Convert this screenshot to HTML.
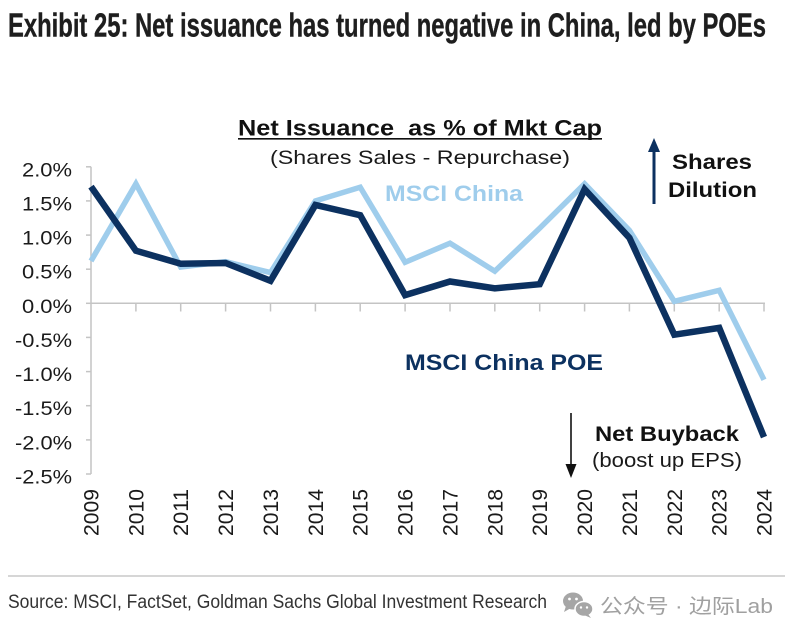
<!DOCTYPE html>
<html>
<head>
<meta charset="utf-8">
<style>
  html,body{margin:0;padding:0;background:#fff;}
  svg{display:block;}
  text{font-family:"Liberation Sans", Arial, sans-serif;}
  .narrow{font-family:"Liberation Sans Narrow","Liberation Sans", Arial, sans-serif;}
  .cjk{font-family:"Liberation Sans","Noto Sans CJK SC", sans-serif;}
</style>
</head>
<body>
<svg width="800" height="638" viewBox="0 0 800 638" xmlns="http://www.w3.org/2000/svg">
  <rect x="0" y="0" width="800" height="638" fill="#ffffff"/>

  <!-- Exhibit title -->
  <text class="narrow" x="8" y="36.5" font-size="33" font-weight="bold" fill="#1e1e1e" stroke="#1e1e1e" stroke-width="0.4" textLength="758" lengthAdjust="spacingAndGlyphs">Exhibit 25: Net issuance has turned negative in China, led by POEs</text>

  <!-- Chart title -->
  <text x="238" y="135.5" font-size="22" font-weight="bold" fill="#111" textLength="364" lengthAdjust="spacingAndGlyphs">Net Issuance&#160; as % of Mkt Cap</text>
  <line x1="238" y1="138.8" x2="602" y2="138.8" stroke="#111" stroke-width="1.6"/>
  <text x="270" y="164" font-size="19.5" fill="#1a1a1a" textLength="300" lengthAdjust="spacingAndGlyphs">(Shares Sales - Repurchase)</text>

  <!-- Y axis -->
  <g stroke="#c4c4c4" stroke-width="1.5" fill="none">
    <line x1="91" y1="166.8" x2="91" y2="474"/>
    <line x1="86" y1="166.8" x2="91" y2="166.8"/>
    <line x1="86" y1="200.9" x2="91" y2="200.9"/>
    <line x1="86" y1="235.1" x2="91" y2="235.1"/>
    <line x1="86" y1="269.2" x2="91" y2="269.2"/>
    <line x1="86" y1="303.3" x2="91" y2="303.3"/>
    <line x1="86" y1="337.4" x2="91" y2="337.4"/>
    <line x1="86" y1="371.6" x2="91" y2="371.6"/>
    <line x1="86" y1="405.7" x2="91" y2="405.7"/>
    <line x1="86" y1="439.9" x2="91" y2="439.9"/>
    <line x1="86" y1="474" x2="91" y2="474"/>
    <!-- zero line -->
    <line x1="91" y1="303.3" x2="765" y2="303.3"/>
    <!-- x ticks -->
    <line x1="135.9" y1="303.3" x2="135.9" y2="311.5"/>
    <line x1="180.7" y1="303.3" x2="180.7" y2="311.5"/>
    <line x1="225.6" y1="303.3" x2="225.6" y2="311.5"/>
    <line x1="270.5" y1="303.3" x2="270.5" y2="311.5"/>
    <line x1="315.4" y1="303.3" x2="315.4" y2="311.5"/>
    <line x1="360.2" y1="303.3" x2="360.2" y2="311.5"/>
    <line x1="405.1" y1="303.3" x2="405.1" y2="311.5"/>
    <line x1="450" y1="303.3" x2="450" y2="311.5"/>
    <line x1="494.8" y1="303.3" x2="494.8" y2="311.5"/>
    <line x1="539.7" y1="303.3" x2="539.7" y2="311.5"/>
    <line x1="584.6" y1="303.3" x2="584.6" y2="311.5"/>
    <line x1="629.4" y1="303.3" x2="629.4" y2="311.5"/>
    <line x1="674.3" y1="303.3" x2="674.3" y2="311.5"/>
    <line x1="719.2" y1="303.3" x2="719.2" y2="311.5"/>
    <line x1="764" y1="303.3" x2="764" y2="311.5"/>
  </g>

  <!-- Y labels -->
  <g font-size="19" fill="#1a1a1a" text-anchor="end">
    <text x="72" y="176.3" textLength="50" lengthAdjust="spacingAndGlyphs">2.0%</text>
    <text x="72" y="210.4" textLength="50" lengthAdjust="spacingAndGlyphs">1.5%</text>
    <text x="72" y="244.6" textLength="50" lengthAdjust="spacingAndGlyphs">1.0%</text>
    <text x="72" y="278.7" textLength="50" lengthAdjust="spacingAndGlyphs">0.5%</text>
    <text x="72" y="312.8" textLength="50" lengthAdjust="spacingAndGlyphs">0.0%</text>
    <text x="72" y="346.9" textLength="57" lengthAdjust="spacingAndGlyphs">-0.5%</text>
    <text x="72" y="381.1" textLength="57" lengthAdjust="spacingAndGlyphs">-1.0%</text>
    <text x="72" y="415.2" textLength="57" lengthAdjust="spacingAndGlyphs">-1.5%</text>
    <text x="72" y="449.4" textLength="57" lengthAdjust="spacingAndGlyphs">-2.0%</text>
    <text x="72" y="483.5" textLength="57" lengthAdjust="spacingAndGlyphs">-2.5%</text>
  </g>

  <!-- X labels (rotated) -->
  <g font-size="21" fill="#1a1a1a" text-anchor="end">
    <text transform="translate(98.5,489) rotate(-90)" textLength="47" lengthAdjust="spacingAndGlyphs">2009</text>
    <text transform="translate(143.4,489) rotate(-90)" textLength="47" lengthAdjust="spacingAndGlyphs">2010</text>
    <text transform="translate(188.2,489) rotate(-90)" textLength="47" lengthAdjust="spacingAndGlyphs">2011</text>
    <text transform="translate(233.1,489) rotate(-90)" textLength="47" lengthAdjust="spacingAndGlyphs">2012</text>
    <text transform="translate(278,489) rotate(-90)" textLength="47" lengthAdjust="spacingAndGlyphs">2013</text>
    <text transform="translate(322.9,489) rotate(-90)" textLength="47" lengthAdjust="spacingAndGlyphs">2014</text>
    <text transform="translate(367.7,489) rotate(-90)" textLength="47" lengthAdjust="spacingAndGlyphs">2015</text>
    <text transform="translate(412.6,489) rotate(-90)" textLength="47" lengthAdjust="spacingAndGlyphs">2016</text>
    <text transform="translate(457.5,489) rotate(-90)" textLength="47" lengthAdjust="spacingAndGlyphs">2017</text>
    <text transform="translate(502.3,489) rotate(-90)" textLength="47" lengthAdjust="spacingAndGlyphs">2018</text>
    <text transform="translate(547.2,489) rotate(-90)" textLength="47" lengthAdjust="spacingAndGlyphs">2019</text>
    <text transform="translate(592.1,489) rotate(-90)" textLength="47" lengthAdjust="spacingAndGlyphs">2020</text>
    <text transform="translate(636.9,489) rotate(-90)" textLength="47" lengthAdjust="spacingAndGlyphs">2021</text>
    <text transform="translate(681.8,489) rotate(-90)" textLength="47" lengthAdjust="spacingAndGlyphs">2022</text>
    <text transform="translate(726.7,489) rotate(-90)" textLength="47" lengthAdjust="spacingAndGlyphs">2023</text>
    <text transform="translate(771.5,489) rotate(-90)" textLength="47" lengthAdjust="spacingAndGlyphs">2024</text>
  </g>

  <!-- MSCI China (light) -->
  <polyline fill="none" stroke="#9fcdec" stroke-width="5.5" stroke-linejoin="miter" stroke-linecap="butt"
    points="91,261 135.9,183.8 180.7,267.1 225.6,261.7 270.5,272.6 315.4,200.9 360.2,187.2 405.1,262.3 450,243.2 494.8,271.2 539.7,228.2 584.6,183.8 629.4,230.3 674.3,301.3 719.2,290.3 764,379.8"/>

  <!-- MSCI China POE (dark) -->
  <polyline fill="none" stroke="#0c3160" stroke-width="6.5" stroke-linejoin="miter" stroke-linecap="butt"
    points="91,186.6 135.9,250.7 180.7,263.7 225.6,263 270.5,280.8 315.4,205 360.2,215.2 405.1,295.1 450,281.5 494.8,288.3 539.7,284.2 584.6,189.3 629.4,237.8 674.3,334.7 719.2,327.9 764,437.1"/>

  <!-- Series labels -->
  <text x="385" y="201" font-size="22" font-weight="bold" fill="#9fcdec" textLength="138" lengthAdjust="spacingAndGlyphs">MSCI China</text>
  <text x="405" y="370" font-size="22" font-weight="bold" fill="#0c3160" textLength="198" lengthAdjust="spacingAndGlyphs">MSCI China POE</text>

  <!-- Shares Dilution annotation -->
  <line x1="654" y1="150" x2="654" y2="204" stroke="#0c3160" stroke-width="3"/>
  <polygon points="654,138 648,152 660,152" fill="#0c3160"/>
  <text x="672" y="169" font-size="21" font-weight="bold" fill="#111" textLength="80" lengthAdjust="spacingAndGlyphs">Shares</text>
  <text x="668" y="197" font-size="21" font-weight="bold" fill="#111" textLength="89" lengthAdjust="spacingAndGlyphs">Dilution</text>

  <!-- Net Buyback annotation -->
  <line x1="571" y1="413" x2="571" y2="466" stroke="#111" stroke-width="1.6"/>
  <polygon points="571,478 565.5,464 576.5,464" fill="#111"/>
  <text x="595" y="441" font-size="21" font-weight="bold" fill="#111" textLength="144" lengthAdjust="spacingAndGlyphs">Net Buyback</text>
  <text x="592" y="467" font-size="20" fill="#1a1a1a" textLength="150" lengthAdjust="spacingAndGlyphs">(boost up EPS)</text>

  <!-- Footer -->
  <line x1="8" y1="576" x2="785" y2="576" stroke="#bdbdbd" stroke-width="1.3"/>
  <text class="narrow" x="8" y="608" font-size="19" fill="#333" textLength="539" lengthAdjust="spacingAndGlyphs">Source: MSCI, FactSet, Goldman Sachs Global Investment Research</text>

  <!-- WeChat icon -->
  <g fill="#a6a6a6">
    <ellipse cx="573" cy="601" rx="10" ry="8.5"/>
    <polygon points="566,606 564,612 571,608"/>
    <ellipse cx="584" cy="609" rx="9" ry="7.5" stroke="#fff" stroke-width="1.5"/>
    <polygon points="588,614 591,618 584,615"/>
  </g>
  <g fill="#fff">
    <circle cx="569.5" cy="599" r="1.4"/>
    <circle cx="576.5" cy="599" r="1.4"/>
    <circle cx="581" cy="607.5" r="1.2"/>
    <circle cx="587" cy="607.5" r="1.2"/>
  </g>
  <text class="cjk" x="600" y="613" font-size="20" fill="#a0a0a0" textLength="173" lengthAdjust="spacingAndGlyphs">公众号 · 边际Lab</text>
</svg>
</body>
</html>
